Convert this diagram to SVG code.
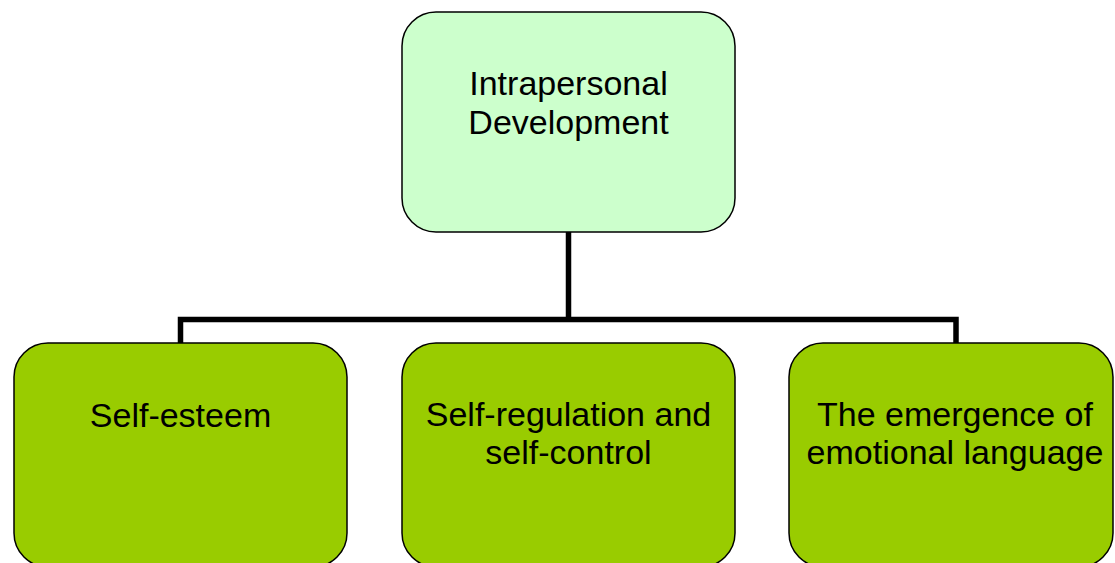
<svg xmlns="http://www.w3.org/2000/svg" width="1115" height="563" viewBox="0 0 1115 563">
<style>
.box{stroke:#000;stroke-width:1.5}
.top{fill:#CCFFCC}
.bot{fill:#99CC00}
.t{font-family:"Liberation Sans",Arial,sans-serif;font-size:34px;fill:#000;text-anchor:middle}
.c{fill:none;stroke:#000;stroke-width:5.5;stroke-linejoin:miter;stroke-linecap:butt}
</style>
<rect width="1115" height="563" fill="#fff"/>
<g id="connectors">
<path class="c" d="M568.5,232 V319.5"/>
<path class="c" d="M180.5,343 V319.5 H956 V343"/>
</g>
<g id="node-intrapersonal">
<rect class="box top" x="402" y="12" width="333" height="220" rx="34" ry="34"/>
<text class="t" x="568.5" y="95">Intrapersonal</text>
<text class="t" x="568.5" y="134">Development</text>
</g>
<g id="node-self-esteem">
<rect class="box bot" x="14" y="343" width="333" height="224" rx="34" ry="34"/>
<text class="t" x="180.5" y="427">Self-esteem</text>
</g>
<g id="node-self-regulation">
<rect class="box bot" x="402" y="343" width="333" height="224" rx="34" ry="34"/>
<text class="t" x="568.5" y="426">Self-regulation and</text>
<text class="t" x="568.5" y="464">self-control</text>
</g>
<g id="node-emotional-language">
<rect class="box bot" x="789" y="343" width="324" height="224" rx="34" ry="34"/>
<text class="t" x="955" y="426">The emergence of</text>
<text class="t" x="955" y="464">emotional language</text>
</g>
</svg>
